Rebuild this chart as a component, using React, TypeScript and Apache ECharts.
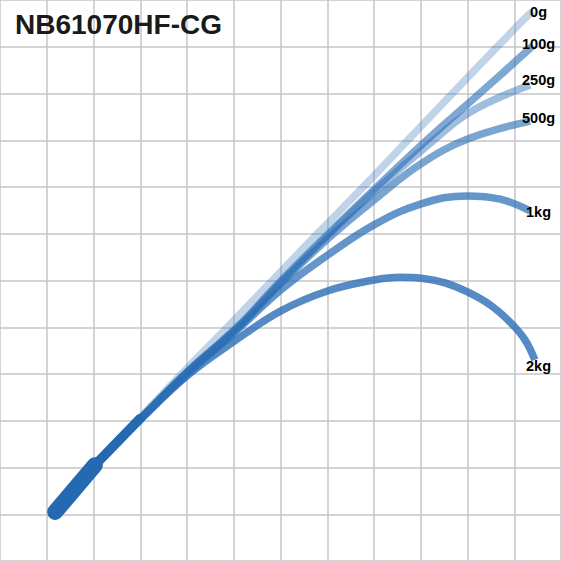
import React, { useEffect, useRef } from "react";
import * as echarts from "echarts";

const TITLE = "NB61070HF-CG";
const LOAD_NAMES = ["0g", "100g", "250g", "500g", "1kg", "2kg"];

// Rod butt (grip) and lower blank, in grid-cell units
const ROD_GRIP = [
  [1.18, 1.05],
  [2.03, 2.05],
];
const ROD_LOWER = [
  [2.03, 2.05],
  [3.0, 3.05],
];

// Bending curves under each load (1 unit = 1 grid cell)
const CURVE_0G = [
  [1.18, 1.05], [2.03, 2.05], [3.02, 3.09], [4.0, 4.12], [4.88, 5.02], [6.78, 6.99],
  [7.76, 7.99], [8.77, 9.05], [9.99, 10.33], [11.19, 11.57], [11.4, 11.76],
];
const CURVE_100G = [
  [1.18, 1.05], [2.03, 2.05], [3.02, 3.06], [4.0, 4.04], [5.07, 5.0],
  [6.01, 5.99], [7.02, 7.0], [8.06, 8.0], [9.16, 9.03], [10.27, 10.01], [11.4, 11.02],
];
const CURVE_250G = [
  [1.18, 1.05], [2.03, 2.05], [3.02, 3.06], [4.0, 4.04], [5.07, 4.99],
  [6.01, 5.97], [7.02, 6.97], [8.06, 7.95], [9.16, 8.9], [10.05, 9.6], [11.34, 10.18],
];
const CURVE_500G = [
  [1.18, 1.05], [2.03, 2.05], [3.02, 3.06], [4.0, 4.03], [5.07, 4.97],
  [6.01, 5.94], [7.02, 6.9], [8.0, 7.72], [8.98, 8.48], [9.99, 9.02], [11.34, 9.41],
];
const CURVE_1KG = [
  [1.18, 1.05], [2.03, 2.05], [3.02, 3.05], [4.0, 3.99], [5.01, 4.88],
  [6.01, 5.8], [7.02, 6.55], [8.0, 7.19], [9.01, 7.64], [9.99, 7.81], [10.7, 7.74], [11.34, 7.49],
];
const CURVE_2KG = [
  [1.18, 1.05], [2.03, 2.05], [3.02, 3.04], [4.0, 3.96], [5.01, 4.7],
  [6.01, 5.35], [7.02, 5.78], [8.0, 6.01], [8.56, 6.07], [9.01, 6.05],
  [9.52, 5.95], [10.01, 5.75], [10.48, 5.48], [10.91, 5.11], [11.23, 4.73], [11.44, 4.3],
];

// Label anchor points (grid units)
const LABEL_POINTS = [
  [11.52, 11.74], [11.52, 11.06], [11.52, 10.29], [11.52, 9.47], [11.52, 7.47], [11.52, 4.18],
];

const CURVES = [CURVE_0G, CURVE_100G, CURVE_250G, CURVE_500G, CURVE_1KG, CURVE_2KG];

const BLUE = "#2a6db5";
const BUTT_COLOR = "#2569b3";
const CURVE_OPACITY = [0.3, 0.6, 0.45, 0.62, 0.72, 0.8];
const FONT = "'Liberation Sans', Arial, Helvetica, sans-serif";

export default function App() {
  const ref = useRef<HTMLDivElement>(null);

  useEffect(() => {
    if (!ref.current) return;
    const chart = echarts.init(ref.current, null, { renderer: "svg" });
    const axisCommon = {
      type: "value",
      min: 0,
      max: 12,
      interval: 1,
      axisLabel: { show: false },
      axisTick: { show: false },
      axisLine: { show: false },
      splitLine: { show: true, lineStyle: { color: "#c6c6ca", width: 1.5 } },
    };
    const lineSeries = CURVES.map((data, i) => ({
      type: "line",
      name: LOAD_NAMES[i],
      data,
      symbol: "none",
      showSymbol: false,
      smooth: 0.4,
      silent: true,
      z: 2 + i,
      lineStyle: {
        color: BLUE,
        width: 7.5,
        opacity: CURVE_OPACITY[i],
        cap: "butt",
        join: "round",
      },
    }));
    const rodSeries = (name: string, data: number[][], width: number) => ({
      type: "line",
      name,
      data,
      symbol: "none",
      showSymbol: false,
      silent: true,
      z: 9,
      lineStyle: { color: BUTT_COLOR, width, cap: "round" },
    });
    const option = {
      animation: false,
      grid: { left: 0, top: 0, right: 1, bottom: 1 },
      xAxis: axisCommon,
      yAxis: axisCommon,
      series: [
        ...lineSeries,
        rodSeries("rodLower", ROD_LOWER, 9.5),
        rodSeries("grip", ROD_GRIP, 16),
        {
          type: "scatter",
          name: "labels",
          data: LABEL_POINTS.map((p, i) => ({ value: p, name: LOAD_NAMES[i] })),
          symbolSize: 1,
          silent: true,
          z: 10,
          itemStyle: { color: "rgba(0,0,0,0)" },
          label: {
            show: true,
            position: "inside",
            formatter: "{b}",
            color: "#000000",
            opacity: 1,
            fontSize: 14.5,
            fontWeight: "bold",
            fontFamily: FONT,
            textBorderWidth: 0,
          },
        },
      ],
      graphic: [
        {
          type: "text",
          x: 15,
          y: 24.5,
          z: 20,
          style: {
            text: TITLE,
            fill: "#1a1a1a",
            fontSize: 28,
            fontWeight: "bold",
            fontFamily: FONT,
            align: "left",
            verticalAlign: "middle",
          },
        },
      ],
    };
    chart.setOption(option as any);
    return () => chart.dispose();
  }, []);

  return (
    <div
      ref={ref}
      style={{ position: "absolute", left: 0, top: 0, width: 562, height: 562, background: "#fff" }}
    />
  );
}
